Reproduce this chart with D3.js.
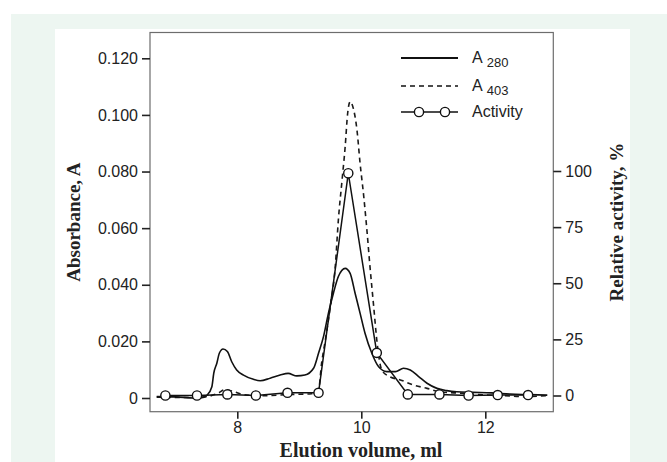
<!DOCTYPE html>
<html><head><meta charset="utf-8">
<script src="https://cdn.jsdelivr.net/npm/d3@7"></script>
<style>
html,body{margin:0;padding:0;background:#fff;}
svg{display:block;}
</style></head>
<body>
<svg id="chart" width="667" height="462"></svg>
<script>
// ---- data ----
const a280X = [6.70, 7.0, 7.3, 7.45, 7.51, 7.59, 7.62, 7.67, 7.71, 7.77, 7.84, 7.91, 7.99, 8.10, 8.26, 8.37, 8.53, 8.69, 8.82, 8.96, 9.09, 9.23, 9.31, 9.39, 9.47, 9.55, 9.63, 9.74, 9.82, 9.90, 9.98, 10.06, 10.17, 10.28, 10.41, 10.55, 10.68, 10.79, 10.93, 11.06, 11.22, 11.38, 11.54, 11.8, 12.1, 12.4, 12.7, 13.0];
const a280Y = [0.0005, 0.0004, 0.0, 0.0002, 0.001, 0.004, 0.0087, 0.0123, 0.0158, 0.0173, 0.0164, 0.0128, 0.0099, 0.0081, 0.0066, 0.0061, 0.0070, 0.0081, 0.0087, 0.0078, 0.0081, 0.0105, 0.0158, 0.0217, 0.030, 0.037, 0.0429, 0.0458, 0.044, 0.037, 0.030, 0.0229, 0.0158, 0.011, 0.0093, 0.0093, 0.0105, 0.0099, 0.0075, 0.0052, 0.0034, 0.0026, 0.0022, 0.0020, 0.0018, 0.0014, 0.0012, 0.0010];

const a403X = [6.70, 7.2, 7.5, 7.7, 7.8, 7.95, 8.1, 8.4, 8.8, 9.2, 9.31, 9.36, 9.42, 9.50, 9.58, 9.63, 9.69, 9.74, 9.78, 9.82, 9.87, 9.93, 9.98, 10.04, 10.09, 10.14, 10.20, 10.25, 10.33, 10.46, 10.63, 10.84, 11.06, 11.27, 11.54, 11.9, 12.3, 12.6, 13.0];
const a403Y = [0.0003, 0.0002, 0.0005, 0.0018, 0.0030, 0.0022, 0.0012, 0.0008, 0.0012, 0.0015, 0.0028, 0.0123, 0.0205, 0.0323, 0.0464, 0.0629, 0.077, 0.0888, 0.1006, 0.1047, 0.1024, 0.0947, 0.083, 0.0711, 0.0594, 0.0464, 0.0323, 0.0205, 0.0099, 0.0075, 0.0064, 0.0046, 0.0034, 0.0022, 0.0018, 0.0012, 0.0008, 0.0005, 0.0008];

const actX = [6.84, 7.35, 7.84, 8.30, 8.81, 9.31, 9.79, 10.25, 10.75, 11.26, 11.73, 12.20, 12.69];
const actY = [0, 0, 0.5, 0, 1.2, 1.2, 99, 19, 0.5, 0.5, 0, 0.2, 0.2];

const xTicks = [8, 10, 12];
const yLeftTicks = [0, 0.02, 0.04, 0.06, 0.08, 0.10, 0.12];
const yLeftLabels = ["0", "0.020", "0.040", "0.060", "0.080", "0.100", "0.120"];
const yRightTicks = [0, 25, 50, 75, 100];

const legendItems = [
  {label: "A", sub: "280", kind: "solid"},
  {label: "A", sub: "403", kind: "dashed"},
  {label: "Activity", sub: "", kind: "activity"}
];

// ---- layout ----
const svg = d3.select("#chart");
svg.append("rect").attr("x", 11).attr("y", 14).attr("width", 656).attr("height", 448).attr("fill", "#edf6f1");
svg.append("rect").attr("x", 55).attr("y", 29).attr("width", 575).attr("height", 433).attr("fill", "#ffffff");

const plot = {left: 150, top: 32.5, right: 553.3, bottom: 411.7};

const x = d3.scaleLinear().domain([8, 12]).range([237.3, 485.3]);
const y = d3.scaleLinear().domain([0, 0.12]).range([398, 58.3]);
const yR = d3.scaleLinear().domain([0, 100]).range([395.5, 171]);

const tickFont = "'Liberation Sans', Arial, sans-serif";
const titleFont = "'Liberation Serif', 'Times New Roman', serif";
const ink = "#222";

// frame
svg.append("rect")
  .attr("x", plot.left).attr("y", plot.top)
  .attr("width", plot.right - plot.left).attr("height", plot.bottom - plot.top)
  .attr("fill", "none").attr("stroke", "#6d6d6d").attr("stroke-width", 1.2);

// axes
const gx = svg.append("g").attr("transform", `translate(0,${plot.bottom})`)
  .call(d3.axisBottom(x).tickValues(xTicks).tickSize(7).tickPadding(3).tickFormat(d3.format("d")));
const gyl = svg.append("g").attr("transform", `translate(${plot.left},0)`)
  .call(d3.axisLeft(y).tickValues(yLeftTicks).tickSize(8).tickPadding(4)
    .tickFormat((d, i) => yLeftLabels[i]));
const gyr = svg.append("g").attr("transform", `translate(${plot.right},0)`)
  .call(d3.axisRight(yR).tickValues(yRightTicks).tickSize(8).tickPadding(4).tickFormat(d3.format("d")));

[gx, gyl, gyr].forEach(g => {
  g.select(".domain").remove();
  g.selectAll(".tick line").attr("stroke", ink).attr("stroke-width", 1.6);
  g.selectAll(".tick text").attr("fill", ink).style("font-family", tickFont).style("font-size", "16px");
});

// axis titles
svg.append("text")
  .attr("transform", `translate(80,${(plot.top + plot.bottom) / 2}) rotate(-90)`)
  .attr("text-anchor", "middle")
  .style("font-family", titleFont).style("font-weight", "bold").style("font-size", "19px")
  .attr("fill", ink).text("Absorbance, A");
svg.append("text")
  .attr("transform", `translate(623,${(plot.top + plot.bottom) / 2}) rotate(-90)`)
  .attr("text-anchor", "middle")
  .style("font-family", titleFont).style("font-weight", "bold").style("font-size", "19px")
  .attr("fill", ink).text("Relative activity, %");
svg.append("text")
  .attr("x", 361).attr("y", 457)
  .attr("text-anchor", "middle")
  .style("font-family", titleFont).style("font-weight", "bold").style("font-size", "20px")
  .attr("fill", ink).text("Elution volume, ml");

// lines
const line = d3.line().curve(d3.curveMonotoneX);
const a280Pts = a280X.map((v, i) => [x(v), y(a280Y[i])]);
const a403Pts = a403X.map((v, i) => [x(v), y(a403Y[i])]);
const actPts = actX.map((v, i) => [x(v), yR(actY[i])]);

svg.append("path").attr("d", line(a403Pts)).attr("fill", "none")
  .attr("stroke", "#1a1a1a").attr("stroke-width", 1.6).attr("stroke-dasharray", "5,4");
svg.append("path").attr("d", line(a280Pts)).attr("fill", "none")
  .attr("stroke", "#111").attr("stroke-width", 1.6);
svg.append("path").attr("d", d3.line()(actPts)).attr("fill", "none")
  .attr("stroke", "#111").attr("stroke-width", 1.5);
svg.selectAll("circle.act").data(actPts).enter().append("circle")
  .attr("class", "act")
  .attr("cx", d => d[0]).attr("cy", d => d[1]).attr("r", 4.6)
  .attr("fill", "#fff").attr("stroke", "#111").attr("stroke-width", 1.4);

// legend
const legY = [58, 86, 112];
legendItems.forEach((it, i) => {
  const ly = legY[i];
  const g = svg.append("g");
  const ln = g.append("line").attr("x1", 401).attr("x2", 458).attr("y1", ly).attr("y2", ly)
    .attr("stroke", "#111").attr("stroke-width", it.kind === "solid" ? 2 : 1.5);
  if (it.kind === "dashed") ln.attr("stroke-dasharray", "5,4");
  if (it.kind === "activity") {
    [419, 445].forEach(cx => g.append("circle").attr("cx", cx).attr("cy", ly).attr("r", 4.6)
      .attr("fill", "#fff").attr("stroke", "#111").attr("stroke-width", 1.4));
  }
  const t = g.append("text").attr("x", 472).attr("y", ly + 5)
    .style("font-family", tickFont).style("font-size", "16px").attr("fill", ink);
  t.append("tspan").text(it.label);
  if (it.sub) t.append("tspan").attr("dx", 4).attr("dy", 4).style("font-size", "13px").text(it.sub);
});
</script>
</body></html>
